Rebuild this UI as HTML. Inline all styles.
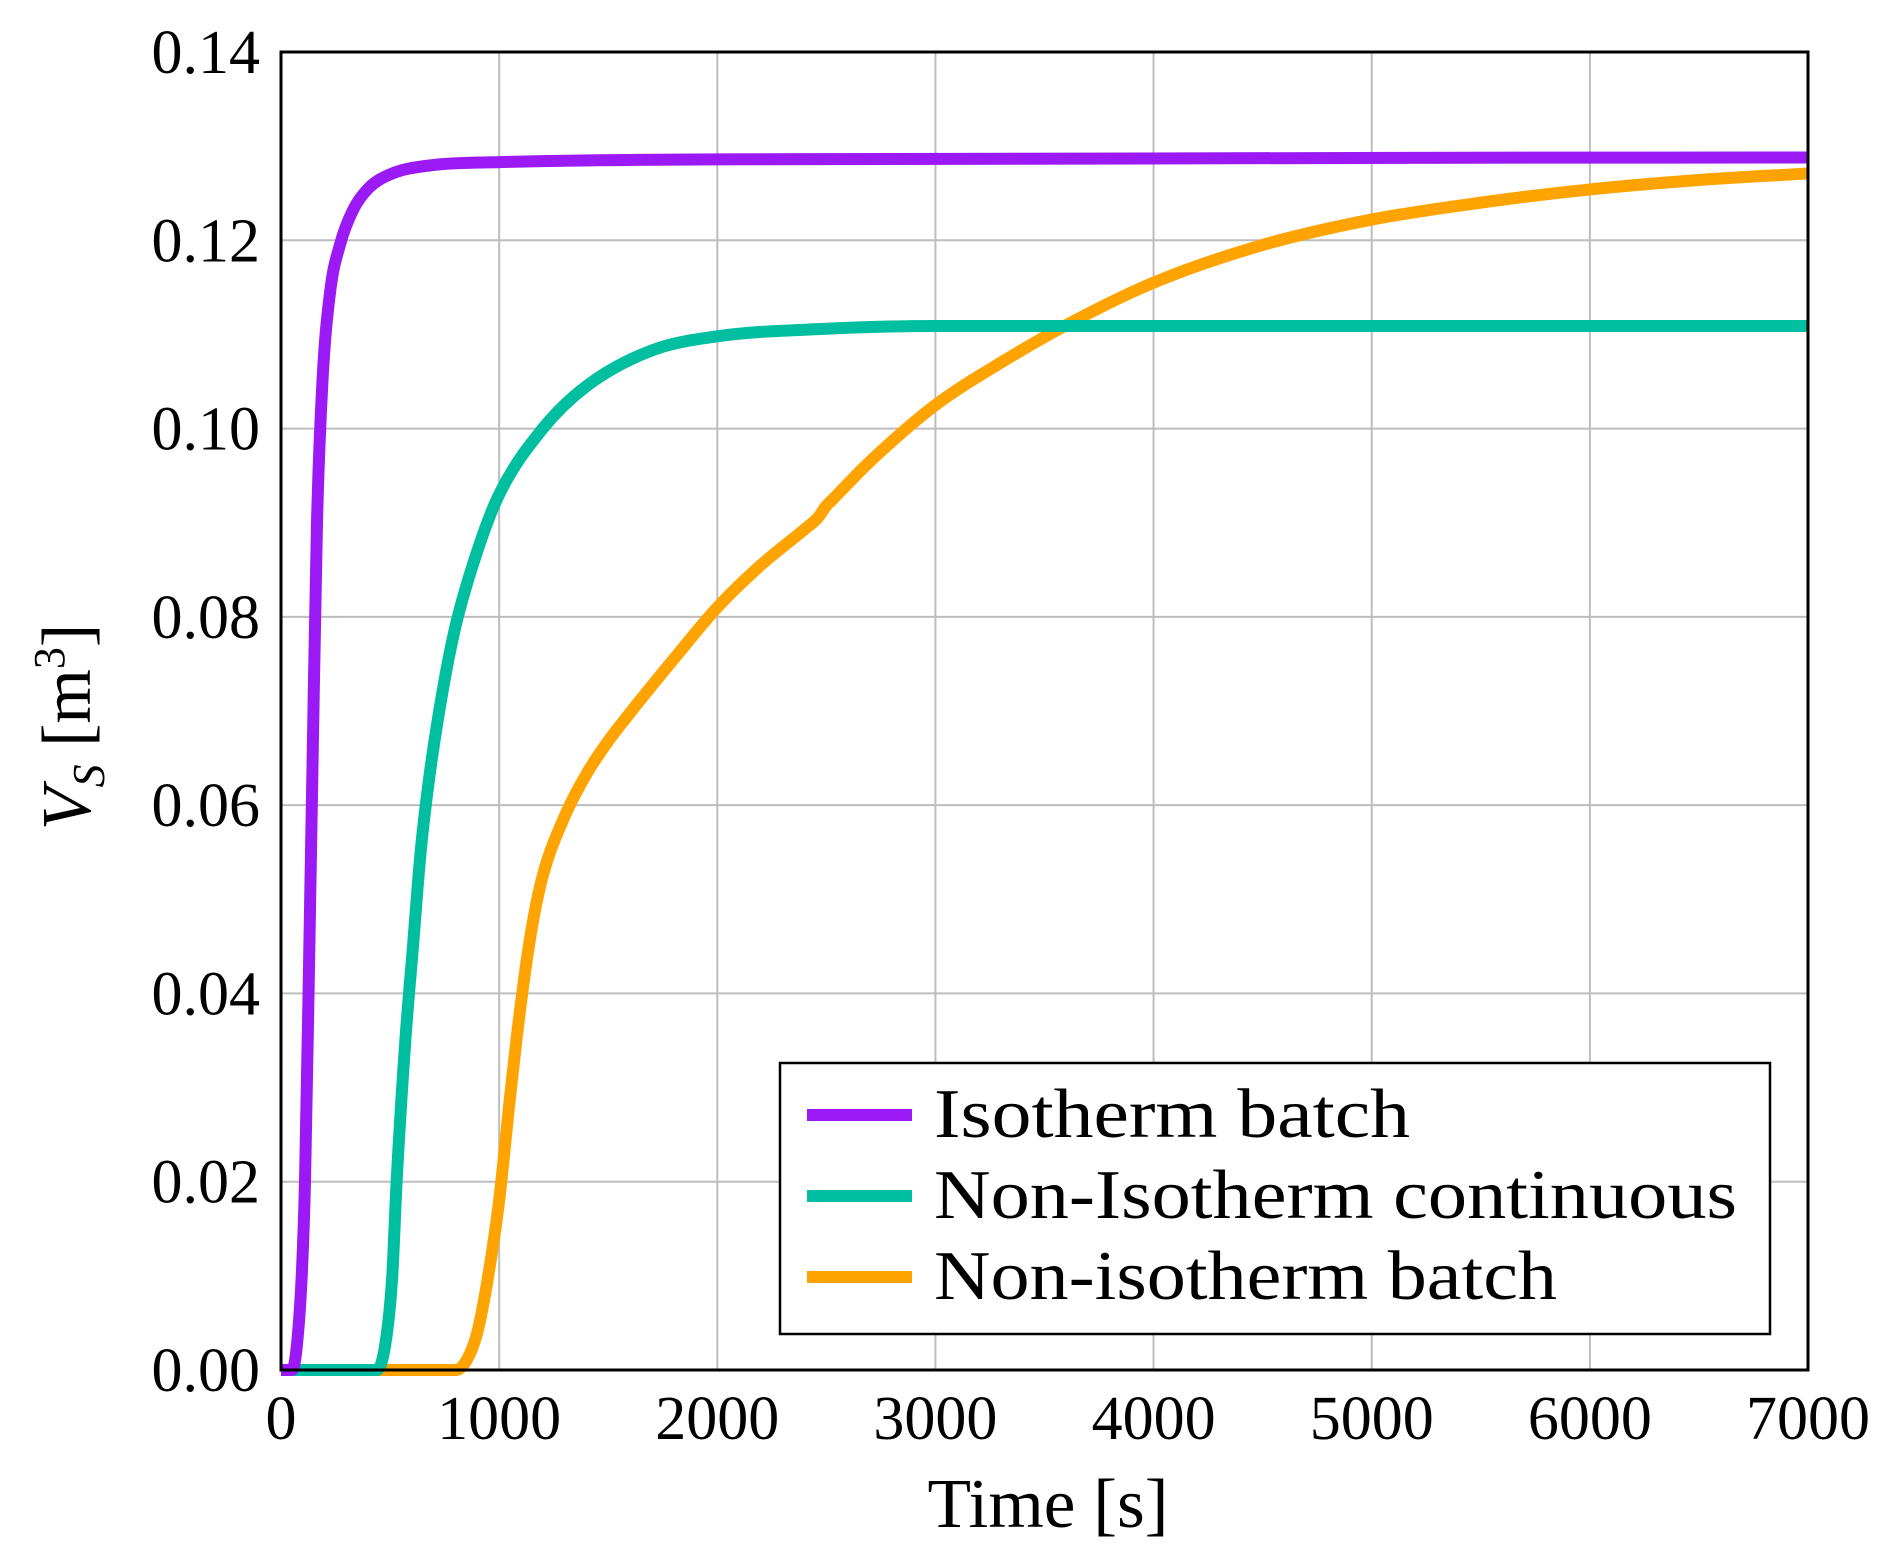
<!DOCTYPE html>
<html><head><meta charset="utf-8"><style>
html,body{margin:0;padding:0;background:#fff;}
svg text{font-family:"Liberation Serif",serif;fill:#000;}
</style></head><body>
<svg id="s" width="1902" height="1563" xmlns="http://www.w3.org/2000/svg">
<g id="grid" stroke="#bdbdbd" stroke-width="2"></g>
<g id="curves" fill="none" stroke-width="12" stroke-linejoin="round" stroke-linecap="butt"></g>
<rect x="281" y="52" width="1527" height="1318" fill="none" stroke="#000" stroke-width="3"/>
<g id="labels" font-size="62"></g>
<rect x="780" y="1063" width="990" height="271" fill="#fff" stroke="#000" stroke-width="2.5"/>
<line x1="807" y1="1115" x2="912" y2="1115" stroke="#9b19f5" stroke-width="12"/>
<line x1="807" y1="1196" x2="912" y2="1196" stroke="#00bfa0" stroke-width="12"/>
<line x1="807" y1="1277" x2="912" y2="1277" stroke="#ffa300" stroke-width="12"/>
<text x="934" y="1137" font-size="70" textLength="476" lengthAdjust="spacingAndGlyphs">Isotherm batch</text>
<text x="934" y="1218" font-size="70" textLength="803" lengthAdjust="spacingAndGlyphs">Non-Isotherm continuous</text>
<text x="934" y="1299" font-size="70" textLength="623" lengthAdjust="spacingAndGlyphs">Non-isotherm batch</text>
<text x="1048" y="1527" font-size="70" text-anchor="middle" textLength="241" lengthAdjust="spacingAndGlyphs">Time [s]</text>
<text transform="translate(90,727) rotate(-90)" font-size="70" text-anchor="middle"><tspan font-style="italic">V</tspan><tspan font-style="italic" font-size="46" dy="14">S</tspan><tspan dy="-14"> [m</tspan><tspan font-size="44" dy="-26">3</tspan><tspan dy="26">]</tspan></text>
</svg>
<script>
var X0=281,X1=1808,Y0=1370,Y1=52;
function px(t){return X0+t/7000*(X1-X0);}
function py(v){return Y0-v/0.14*(Y0-Y1);}
var ns="http://www.w3.org/2000/svg";
var g=document.getElementById('grid'),L=document.getElementById('labels');
for(var i=1;i<7;i++){var l=document.createElementNS(ns,'line');l.setAttribute('x1',px(i*1000));l.setAttribute('x2',px(i*1000));l.setAttribute('y1',Y1);l.setAttribute('y2',Y0);g.appendChild(l);}
for(var j=1;j<7;j++){var l=document.createElementNS(ns,'line');l.setAttribute('y1',py(j*0.02));l.setAttribute('y2',py(j*0.02));l.setAttribute('x1',X0);l.setAttribute('x2',X1);g.appendChild(l);}
for(var i=0;i<=7;i++){var t=document.createElementNS(ns,'text');t.setAttribute('x',px(i*1000));t.setAttribute('y',1439);t.setAttribute('text-anchor','middle');t.textContent=String(i*1000);L.appendChild(t);}
for(var j=0;j<=7;j++){var t=document.createElementNS(ns,'text');t.setAttribute('x',260);t.setAttribute('y',py(j*0.02)+21);t.setAttribute('text-anchor','end');t.textContent=(j*0.02).toFixed(2);L.appendChild(t);}
function mono(P){var n=P.length,d=[],m=[];for(var i=0;i<n-1;i++)d.push((P[i+1][1]-P[i][1])/(P[i+1][0]-P[i][0]));
m[0]=d[0];m[n-1]=d[n-2];for(var i=1;i<n-1;i++){m[i]=(d[i-1]*d[i]<=0)?0:(d[i-1]+d[i])/2;}
for(var i=0;i<n-1;i++){if(d[i]==0){m[i]=0;m[i+1]=0;continue;}var a=m[i]/d[i],b=m[i+1]/d[i],s=a*a+b*b;if(s>9){var tt=3/Math.sqrt(s);m[i]=tt*a*d[i];m[i+1]=tt*b*d[i];}}
var s="M"+px(P[0][0])+","+py(P[0][1]);
for(var i=0;i<n-1;i++){var h=P[i+1][0]-P[i][0];
s+=" C"+px(P[i][0]+h/3)+","+py(P[i][1]+m[i]*h/3)+" "+px(P[i+1][0]-h/3)+","+py(P[i+1][1]-m[i+1]*h/3)+" "+px(P[i+1][0])+","+py(P[i+1][1]);}
return s;}
var C=document.getElementById('curves');
function add(P,c){var p=document.createElementNS(ns,'path');p.setAttribute('d',mono(P));p.setAttribute('stroke',c);C.appendChild(p);}
add([[0,0],[800,0],[850,0.001],[900,0.004],[950,0.01],[1000,0.018],[1050,0.029],[1100,0.039],[1150,0.047],[1200,0.0525],[1300,0.0588],[1400,0.0633],[1500,0.0668],[1600,0.0698],[1800,0.0755],[2000,0.081],[2200,0.0855],[2400,0.0893],[2460,0.0905],[2500,0.0918],[2530,0.0925],[2700,0.0965],[3000,0.1025],[3300,0.107],[3600,0.111],[4000,0.1155],[4500,0.1195],[5000,0.1222],[5500,0.124],[6000,0.1254],[6500,0.1264],[7000,0.1271]],'#ffa300');
add([[0,0],[440,0],[480,0.003],[510,0.01],[530,0.02],[570,0.035],[605,0.045],[640,0.055],[680,0.063],[740,0.072],[800,0.079],[900,0.087],[1000,0.093],[1200,0.1],[1400,0.1045],[1700,0.1083],[2000,0.1098],[2500,0.1106],[3000,0.1109],[7000,0.1109]],'#00bfa0');
add([[0,0],[50,0],[70,0.002],[95,0.01],[110,0.02],[130,0.045],[145,0.065],[165,0.09],[190,0.105],[225,0.1145],[270,0.1195],[330,0.1232],[400,0.1255],[500,0.127],[700,0.128],[1000,0.1283],[2000,0.1286],[7000,0.1288]],'#9b19f5');
</script>
</body></html>
